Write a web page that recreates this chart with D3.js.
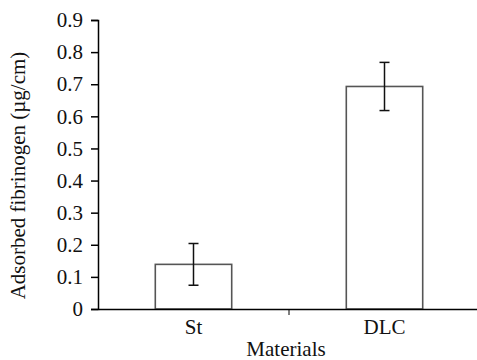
<!DOCTYPE html>
<html>
<head>
<meta charset="utf-8">
<script src="https://cdn.jsdelivr.net/npm/d3@7"></script>
<style>
body { margin: 0; background: #fff; }
</style>
</head>
<body>
<div class="chart"></div>
<script>
var materials = ["St", "DLC"];
var fibrinogen = [0.139, 0.693];
var errors = [0.065, 0.075];
var yTicks = [0, 0.1, 0.2, 0.3, 0.4, 0.5, 0.6, 0.7, 0.8, 0.9];

var serif = "Liberation Serif";
var fs = 21;

var margin = {top: 20, right: -3, bottom: 51, left: 98},
    width = 477 - margin.left - margin.right,
    height = 360 - margin.top - margin.bottom;

var svg = d3.select(".chart").append("svg")
  .attr("width", 477).attr("height", 360);
var g = svg.append("g").attr("transform", "translate(" + margin.left + "," + margin.top + ")");

var x = d3.scaleBand().domain(materials).range([0, width]).paddingInner(0).paddingOuter(0);
var y = d3.scaleLinear().domain([0, 0.9]).range([height, 0]);
var bw = x.bandwidth() * 0.4;

// bars
g.selectAll("rect.bar").data(materials).enter().append("rect")
  .attr("class", "bar")
  .attr("x", function(d) { return x(d) + x.bandwidth() / 2 - bw / 2; })
  .attr("y", function(d, i) { return y(fibrinogen[i]); })
  .attr("width", bw)
  .attr("height", function(d, i) { return height - y(fibrinogen[i]); })
  .style("fill", "#fff")
  .style("stroke", "#555")
  .style("stroke-width", 1.6);

// error bars
var eb = g.selectAll("g.err").data(materials).enter().append("g")
  .attr("transform", function(d) { return "translate(" + (x(d) + x.bandwidth() / 2) + ",0)"; })
  .style("stroke", "#111").style("stroke-width", 1.5);
eb.append("line").attr("x1", 0).attr("x2", 0)
  .attr("y1", function(d, i) { return y(fibrinogen[i] + errors[i]); })
  .attr("y2", function(d, i) { return y(fibrinogen[i] - errors[i]); });
eb.append("line").attr("x1", -5).attr("x2", 5)
  .attr("y1", function(d, i) { return y(fibrinogen[i] + errors[i]); })
  .attr("y2", function(d, i) { return y(fibrinogen[i] + errors[i]); });
eb.append("line").attr("x1", -5).attr("x2", 5)
  .attr("y1", function(d, i) { return y(fibrinogen[i] - errors[i]); })
  .attr("y2", function(d, i) { return y(fibrinogen[i] - errors[i]); });

// y axis
var yAxis = g.append("g")
  .call(d3.axisLeft(y).tickValues(yTicks).tickSize(7).tickPadding(8)
    .tickFormat(function(d) { return d === 0 ? "0" : d3.format(".1f")(d); }))
  .attr("font-family", serif).attr("font-size", fs);
yAxis.selectAll("text").attr("fill", "#111");

// x axis
var xAxis = g.append("g").attr("transform", "translate(0," + height + ")")
  .call(d3.axisBottom(x).tickSize(0).tickPadding(10))
  .attr("font-family", serif).attr("font-size", fs);
xAxis.selectAll("text").attr("fill", "#111");
// tick between categories
xAxis.append("line").attr("x1", x("DLC")).attr("x2", x("DLC")).attr("y1", 0).attr("y2", 6)
  .style("stroke", "#000");

svg.selectAll(".domain, .tick line").style("stroke", "#000").style("stroke-width", 1.5);

// axis titles
svg.append("text")
  .attr("x", margin.left + width / 2 - 3).attr("y", 356)
  .attr("text-anchor", "middle").attr("font-family", serif).attr("font-size", fs).attr("fill", "#111")
  .text("Materials");
svg.append("text")
  .attr("transform", "translate(25," + (margin.top + height / 2 + 11) + ") rotate(-90)")
  .attr("text-anchor", "middle").attr("font-family", serif).attr("font-size", fs).attr("fill", "#111")
  .text("Adsorbed fibrinogen (µg/cm)");
</script>
</body>
</html>
